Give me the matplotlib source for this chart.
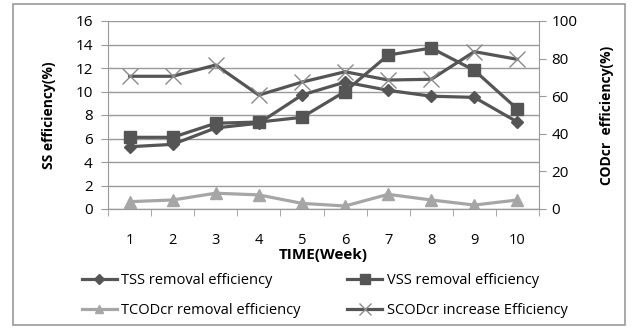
import matplotlib
matplotlib.use('Agg')
import matplotlib.pyplot as plt
from matplotlib.patches import Rectangle
from matplotlib.lines import Line2D
import numpy as np

# Dados
weeks = [1, 2, 3, 4, 5, 6, 7, 8, 9, 10]
tss = [5.3, 5.5, 6.9, 7.3, 9.7, 10.8, 10.1, 9.6, 9.5, 7.4]
vss = [6.1, 6.1, 7.3, 7.4, 7.8, 10.0, 13.1, 13.7, 11.8, 8.5]
tcod = [3.9, 4.8, 8.4, 7.5, 3.0, 1.6, 7.8, 4.8, 2.1, 4.8]
scod = [70.6, 70.6, 76.6, 60.6, 67.5, 73.0, 68.6, 69.0, 83.7, 79.6]

labels = ['TSS removal efficiency', 'VSS removal efficiency',
          'TCODcr removal efficiency', 'SCODcr increase Efficiency']

plt.rcParams['font.family'] = ['Open Sans', 'DejaVu Sans']
dark = '#555555'
light = '#a6a6a6'
grid_c = '#999999'

fig = plt.figure(figsize=(6.33, 3.29), dpi=100)
fig.patches.append(Rectangle((13 / 633, 4 / 329), 612 / 633, 321 / 329,
                             transform=fig.transFigure, fill=False,
                             edgecolor='#9a9a9a', linewidth=1.2))

ax = fig.add_axes([108 / 633, 1 - 209 / 329, 431 / 633, 188 / 329])
ax2 = ax.twinx()

ax.plot(weeks, tss, color=dark, lw=2.3, marker='D', ms=6, zorder=3)
ax.plot(weeks, vss, color=dark, lw=2.3, marker='s', ms=9, zorder=3)
ax2.plot(weeks, tcod, color=light, lw=2.3, marker='^', ms=9)
ax2.plot(weeks, scod, color=dark, lw=2.3, marker='x', ms=11, mew=1.0, mec='#8a8a8a')

ax.set_xlim(0.5, 10.5)
ax.set_ylim(0, 16)
ax.set_yticks(np.arange(0, 17, 2))
ax2.set_ylim(0, 100)
ax2.set_yticks(np.arange(0, 101, 20))
ax.set_xticks(weeks)
ax.set_xticks(np.arange(0.5, 11, 1), minor=True)
ax.tick_params(axis='x', which='major', length=0, pad=17, labelsize=10.5)
ax.tick_params(axis='x', which='minor', length=5, color=grid_c)
ax.tick_params(axis='y', length=5, color=grid_c, labelsize=11, pad=6)
ax2.tick_params(axis='y', length=5, color=grid_c, labelsize=11, pad=4)
ax.grid(axis='y', color=grid_c, lw=1)
ax.set_axisbelow(True)

for a in (ax, ax2):
    a.spines['top'].set_visible(False)
    a.spines['left'].set_color(grid_c)
    a.spines['right'].set_color(grid_c)
    a.spines['bottom'].set_color(grid_c)
ax2.spines['left'].set_visible(False)
ax.spines['right'].set_visible(False)

ax.set_ylabel('SS efficiency(%)', fontweight='bold', fontsize=10, labelpad=14)
ax2.set_ylabel('CODcr  efficiency(%)', fontweight='bold', fontsize=10, labelpad=16)
ax.set_xlabel('TIME(Week)', fontweight='bold', fontsize=11, labelpad=0)

handles = [
    Line2D([], [], color=dark, lw=2.3, marker='D', ms=5),
    Line2D([], [], color=light, lw=2.3, marker='^', ms=6),
    Line2D([], [], color=dark, lw=2.3, marker='s', ms=7),
    Line2D([], [], color=dark, lw=2.3, marker='x', ms=8, mew=1.0, mec='#8a8a8a'),
]
leg_labels = [labels[0], labels[2], labels[1], labels[3]]
fig.legend(handles, leg_labels, ncol=2, loc='upper left',
           bbox_to_anchor=(76 / 633, 1 - 267 / 329), frameon=False,
           fontsize=10.5, handlelength=2.4, handletextpad=0.3,
           columnspacing=3.2, labelspacing=1.05, borderaxespad=0)

fig.savefig('out.png', dpi=100)
